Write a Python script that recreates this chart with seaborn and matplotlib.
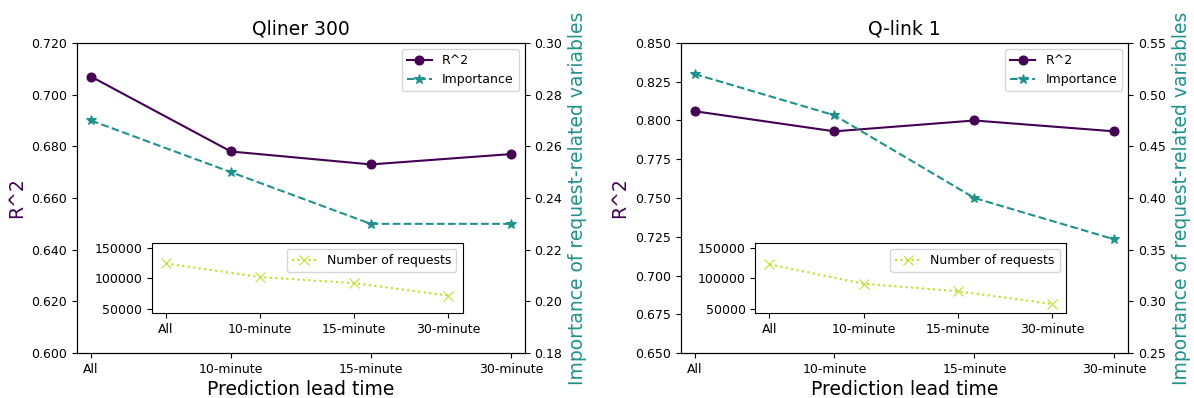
import matplotlib
matplotlib.use("Agg")
import matplotlib.pyplot as plt
import seaborn as sns
import pandas as pd
import numpy as np
from matplotlib.ticker import FormatStrFormatter

categories = ["All", "10-minute", "15-minute", "30-minute"]
titles = ["Qliner 300", "Q-link 1"]
r2_values = [[0.707, 0.678, 0.673, 0.677], [0.806, 0.793, 0.800, 0.793]]
importance_values = [[0.27, 0.25, 0.23, 0.23], [0.52, 0.48, 0.40, 0.36]]
request_counts = [[124500, 102000, 92000, 71500], [123000, 91000, 78500, 57500]]
r2_limits = [(0.600, 0.720), (0.650, 0.850)]
r2_steps = [0.02, 0.025]
imp_limits = [(0.18, 0.30), (0.25, 0.55)]
imp_steps = [0.02, 0.05]
r2_fmt = ["%.3f", "%.3f"]
imp_fmt = ["%.2f", "%.2f"]

c_r2 = "#440154"
c_imp = "#21918c"
c_req = "#bddf26"

plt.rcParams["xtick.labelsize"] = 9
plt.rcParams["ytick.labelsize"] = 9
plt.rcParams["legend.fontsize"] = 9

fig = plt.figure(figsize=(11.94, 3.98), dpi=100)
lefts = [0.0645, 0.570]
width = 0.375
bottom, height = 0.113, 0.779
lab_fs = 13.5

for i in range(2):
    ax = fig.add_axes([lefts[i], bottom, width, height])
    df = pd.DataFrame({"lead": categories, "r2": r2_values[i],
                       "imp": importance_values[i], "req": request_counts[i]})
    sns.lineplot(data=df, x="lead", y="r2", ax=ax, color=c_r2, marker="o",
                 markersize=6.5, markeredgecolor=c_r2, linestyle="-", label="R^2", legend=False)
    ax2 = ax.twinx()
    sns.lineplot(data=df, x="lead", y="imp", ax=ax2, color=c_imp, marker="*",
                 markersize=7, markeredgecolor=c_imp, linestyle="--", label="Importance", legend=False)
    ax.set_xlim(-0.1, 3.1)
    ax.set_ylim(*r2_limits[i])
    ax.set_yticks(np.arange(r2_limits[i][0], r2_limits[i][1] + 1e-9, r2_steps[i]))
    ax.yaxis.set_major_formatter(FormatStrFormatter(r2_fmt[i]))
    ax2.set_ylim(*imp_limits[i])
    ax2.set_yticks(np.arange(imp_limits[i][0], imp_limits[i][1] + 1e-9, imp_steps[i]))
    ax2.yaxis.set_major_formatter(FormatStrFormatter(imp_fmt[i]))
    ax.set_xlabel("Prediction lead time", fontsize=lab_fs, labelpad=3)
    ax.set_ylabel("R^2", fontsize=lab_fs, color=c_r2)
    ax2.set_ylabel("Importance of request-related variables", fontsize=lab_fs, color=c_imp)
    ax.set_title(titles[i], fontsize=lab_fs)
    h1, l1 = ax.get_legend_handles_labels()
    h2, l2 = ax2.get_legend_handles_labels()
    ax2.legend(h1 + h2, l1 + l2, loc="upper right")

    # inset
    ins = fig.add_axes([lefts[i] + 0.167 * width, bottom + 0.128 * height,
                        0.694 * width, 0.228 * height])
    ins.set_zorder(ax2.get_zorder() + 1)
    sns.lineplot(data=df, x="lead", y="req", ax=ins, color=c_req, marker="x",
                 markersize=6.5, markeredgecolor=c_req, linestyle=":", label="Number of requests", legend=False)
    ins.set_ylim(42000, 159000)
    ins.set_yticks([50000, 100000, 150000])
    ins.set_xlabel("")
    ins.set_ylabel("")
    ins.legend(loc="upper right")

fig.savefig("out.png", dpi=100)
